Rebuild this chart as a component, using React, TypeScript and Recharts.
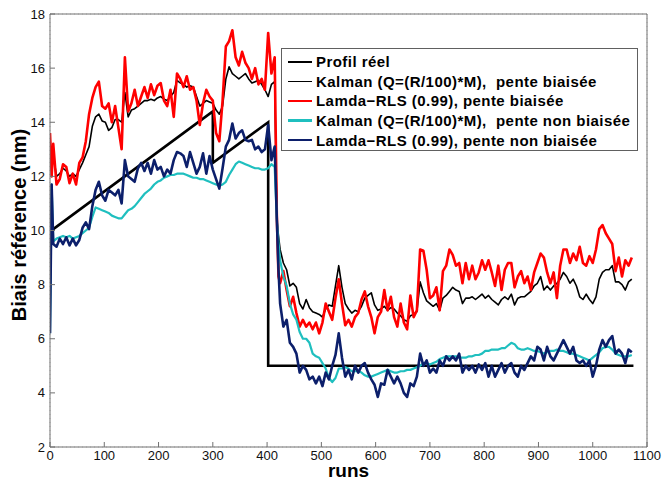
import React from 'react'
import { LineChart, Line, XAxis, YAxis, CartesianGrid, Legend } from 'recharts'

// x positions (runs) shared by the four estimator curves
const runs = [
  0, 3, 6, 12, 18, 24, 30, 36, 42, 48,
  54, 60, 66, 72, 78, 84, 90, 96, 102, 108,
  114, 120, 126, 132, 138, 144, 150, 156, 162, 168,
  174, 180, 186, 192, 198, 204, 210, 216, 222, 228,
  234, 240, 246, 252, 258, 264, 270, 276, 282, 288,
  294, 300, 306, 312, 318, 324, 330, 336, 342, 348,
  354, 360, 366, 372, 378, 384, 390, 396, 402, 408,
  414, 418, 421, 424, 430, 436, 442, 448, 454, 460,
  466, 472, 478, 484, 490, 496, 502, 508, 514, 520,
  526, 532, 538, 544, 550, 556, 562, 568, 574, 580,
  586, 592, 598, 604, 610, 616, 622, 628, 634, 640,
  646, 652, 658, 664, 670, 676, 682, 688, 694, 700,
  706, 712, 718, 724, 730, 736, 742, 748, 754, 760,
  766, 772, 778, 784, 790, 796, 802, 808, 814, 820,
  826, 832, 838, 844, 850, 856, 862, 868, 874, 880,
  886, 892, 898, 904, 910, 916, 922, 928, 934, 940,
  946, 952, 958, 964, 970, 976, 982, 988, 994, 1000,
  1006, 1012, 1018, 1024, 1030, 1036, 1042, 1048, 1054, 1060,
  1066, 1072,
]

const kalmanBiaisee = [
  13.5, 12.3, 12.8, 12.0, 12.1, 12.3, 12.2, 12.0, 12.1, 12.0,
  12.25, 12.5, 12.8, 13.1, 13.85, 14.2, 14.3, 14.05, 14.0, 13.7,
  13.8, 14.1, 14.1, 14.0, 15.1, 14.2, 14.45, 14.5, 14.6, 14.7,
  14.8, 14.8, 14.85, 14.8, 14.9, 14.95, 14.85, 14.8, 14.95, 15.1,
  15.55, 15.45, 15.4, 15.3, 15.35, 15.3, 14.95, 14.6, 14.7, 14.8,
  14.75, 14.7, 14.45, 14.3, 14.6, 15.6, 16.05, 15.8, 15.7, 15.6,
  15.7, 15.8, 15.6, 15.45, 15.5, 15.55, 15.4, 15.2, 14.95, 15.4,
  15.5, 10.4, 9.8, 9.3, 8.8, 8.55, 7.95, 8.05, 7.9, 7.3,
  7.1, 7.45, 7.15, 7.0, 6.95, 6.9, 6.8, 7.1, 7.25, 7.2,
  7.95, 8.7, 7.9, 7.3, 7.1, 6.95, 7.05, 7.0, 7.2, 7.5,
  7.6, 7.7, 7.25, 7.05, 7.1, 7.2, 7.05, 7.15, 7.1, 6.95,
  6.85, 6.7, 6.65, 6.85, 6.9, 7.0, 8.1, 7.7, 7.4, 7.3,
  7.2, 7.3, 7.05, 7.5, 7.6, 7.75, 7.9, 7.8, 7.75, 7.3,
  7.5, 7.5, 7.55, 7.45, 7.55, 7.65, 7.5, 7.6, 7.45, 7.35,
  7.25, 7.45, 7.55, 7.45, 7.65, 7.25, 7.5, 7.55, 7.55, 7.65,
  7.75, 7.95, 8.05, 8.3, 7.8, 7.95, 7.8, 7.95, 8.05, 8.2,
  8.45, 8.3, 8.05, 8.2, 7.95, 7.55, 7.45, 7.65, 7.45, 7.3,
  7.55, 8.2, 8.45, 8.55, 8.55, 8.7, 8.1, 8.1, 8.0, 7.8,
  8.1, 8.2,
]

const rlsBiaisee = [
  13.6, 12.0, 13.2, 11.7, 11.9, 12.45, 12.35, 11.75, 12.1, 11.7,
  12.5, 12.7, 13.3, 14.3, 14.9, 15.3, 15.5, 14.6, 14.5, 14.7,
  14.0, 14.6, 13.8, 13.0, 16.4, 14.4, 14.7, 15.2, 14.6, 14.95,
  15.3, 14.9, 15.4, 15.0, 15.35, 15.45, 14.8, 14.6, 15.2, 14.2,
  15.8, 15.6, 15.3, 15.7, 15.2, 15.3, 14.8, 13.9, 14.7, 15.2,
  14.95, 14.8, 13.6, 13.3, 14.8, 16.8, 17.0, 17.4, 16.4, 16.1,
  16.6, 16.2, 16.0, 15.6, 16.0, 15.4, 15.6, 15.2, 17.3, 15.8,
  16.4, 10.5, 8.3, 8.05, 8.5, 7.8, 7.2, 7.55, 6.95, 6.45,
  6.7, 6.45, 6.6, 6.35, 6.6, 6.2, 6.6, 7.3, 7.0, 6.7,
  7.5, 8.2, 7.3, 6.5, 6.7, 6.45, 6.8, 6.95, 7.45, 7.75,
  7.2, 6.8, 6.2, 6.8, 7.0, 7.8, 7.05, 7.55, 6.8, 6.45,
  7.3, 6.6, 6.35, 7.6, 6.8, 7.05, 9.3, 9.25, 8.55, 7.5,
  7.6, 7.9, 7.05, 8.5, 8.7, 9.3, 9.1, 8.7, 8.8, 8.05,
  8.8, 8.2, 8.7, 8.2, 8.45, 8.9, 8.55, 8.9, 8.45, 7.95,
  8.7, 7.8, 8.55, 8.8, 8.8, 7.9, 8.3, 8.5, 8.05, 8.3,
  7.8, 8.45, 8.8, 9.15, 9.0, 8.45, 8.05, 8.45, 7.5, 8.7,
  9.3, 9.3, 8.8, 9.15, 8.9, 9.4, 8.8, 8.7, 9.05, 8.8,
  9.3, 10.05, 10.2, 9.9, 9.7, 9.5, 8.5, 9.0, 8.3, 8.9,
  8.7, 9.0,
]

const kalmanNonBiaisee = [
  6.2, 11.7, 9.6, 9.7, 9.75, 9.8, 9.75, 9.8, 9.7, 9.75,
  9.8, 9.9, 10.0, 10.1, 10.5, 10.85, 10.8, 10.75, 10.7, 10.65,
  10.55, 10.5, 10.45, 10.45, 10.6, 10.75, 10.8, 10.9, 11.05, 11.2,
  11.35, 11.45, 11.55, 11.7, 11.8, 11.85, 11.95, 12.0, 12.05, 12.05,
  12.1, 12.1, 12.1, 12.05, 12.0, 11.95, 11.95, 11.9, 11.9, 11.85,
  11.8, 11.75, 11.7, 11.65, 11.7, 11.8, 12.05, 12.25, 12.45, 12.55,
  12.5, 12.45, 12.4, 12.35, 12.3, 12.3, 12.25, 12.25, 12.3, 12.45,
  12.35, 10.4, 9.55, 8.9, 8.3, 7.95, 7.3, 6.9, 6.7, 6.25,
  6.0, 6.0, 5.85, 5.45, 5.35, 5.3, 5.1, 4.9, 4.55, 4.4,
  4.55, 4.9, 4.9, 4.95, 4.9, 4.8, 4.8, 4.8, 4.75, 4.65,
  4.6, 4.6, 4.65, 4.7, 4.75, 4.8, 4.85, 4.8, 4.75, 4.75,
  4.8, 4.8, 4.85, 4.85, 4.9, 4.95, 5.0, 5.1, 5.1, 5.05,
  5.1, 5.15, 5.25, 5.3, 5.35, 5.35, 5.35, 5.35, 5.3, 5.3,
  5.3, 5.35, 5.35, 5.4, 5.4, 5.45, 5.55, 5.55, 5.6, 5.6,
  5.6, 5.65, 5.65, 5.75, 5.85, 5.8, 5.65, 5.6, 5.6, 5.65,
  5.6, 5.55, 5.55, 5.5, 5.45, 5.5, 5.55, 5.55, 5.6, 5.55,
  5.55, 5.5, 5.45, 5.45, 5.4, 5.35, 5.3, 5.25, 5.2, 5.3,
  5.4, 5.5, 5.65, 5.7, 5.7, 5.6, 5.45, 5.4, 5.35, 5.35,
  5.35, 5.4,
]

const rlsNonBiaisee = [
  6.2, 11.7, 9.5, 9.4, 9.7, 9.5, 9.75, 9.45, 9.7, 9.45,
  9.65, 10.1, 10.3, 10.05, 10.9, 11.5, 11.8, 11.3, 11.1, 11.5,
  11.4, 11.3, 11.5, 11.0, 12.6, 12.0, 11.9, 11.8, 12.3, 12.5,
  12.2, 12.5, 12.1, 12.6, 12.25, 12.35, 12.0, 12.25, 12.1, 12.6,
  12.9, 12.85, 12.75, 12.35, 12.9, 12.5, 12.1, 12.35, 12.85, 12.1,
  12.75, 12.25, 11.9, 11.55, 12.3, 13.1, 13.35, 13.95, 13.4, 13.6,
  13.7, 13.35, 13.3, 13.35, 13.0, 13.1, 12.9, 13.0, 13.9, 12.6,
  13.1, 10.4, 8.55, 7.3, 6.45, 6.7, 5.85, 5.7, 5.45, 4.75,
  5.0, 4.85, 4.5, 4.6, 4.35, 4.6, 4.25, 4.75, 4.5, 5.0,
  5.4, 6.2, 5.3, 4.6, 4.85, 4.5, 5.0, 4.75, 5.0, 5.1,
  4.75, 4.5, 4.3, 3.85, 4.35, 4.3, 4.85, 4.6, 4.35, 4.6,
  4.35, 4.0, 3.85, 4.35, 4.25, 4.6, 5.45, 5.0, 5.2, 4.75,
  4.9, 4.75, 5.2, 5.0, 5.35, 5.2, 5.35, 5.2, 5.45, 4.75,
  5.0, 4.85, 5.0, 4.75, 5.05, 4.85, 5.1, 4.6, 5.0, 4.6,
  4.85, 5.1, 4.75, 5.0, 5.1, 4.75, 4.6, 5.0, 4.85, 5.1,
  5.35, 5.2, 5.7, 5.6, 5.2, 5.7, 5.35, 5.2, 5.45, 5.7,
  5.95, 5.7, 5.45, 5.7, 5.2, 5.1, 5.2, 5.0, 5.2, 4.6,
  5.0, 5.6, 5.95, 5.7, 5.95, 6.1, 5.45, 5.6, 5.45, 5.1,
  5.6, 5.5,
]

// true profile: ramp, reset, ramp, then step down to 5
const profilRuns = [6, 300, 300, 402, 402, 1075]
const profilValues = [10.05, 14.4, 12.5, 14.0, 5.0, 5.0]

const xTicks = [0, 100, 200, 300, 400, 500, 600, 700, 800, 900, 1000, 1100]
const yTicks = [2, 4, 6, 8, 10, 12, 14, 16, 18]

const series = [
  { key: 'profil', name: 'Profil réel', color: '#000000', width: 2.6 },
  { key: 'kalmanB', name: 'Kalman (Q=(R/100)*M),  pente biaisée', color: '#000000', width: 1.6 },
  { key: 'rlsB', name: 'Lamda\u2212RLS (0.99), pente biaisée', color: '#ff0000', width: 2.6 },
  { key: 'kalmanNB', name: 'Kalman (Q=(R/100)*M),  pente non biaisée', color: '#1fbfbf', width: 2.2 },
  { key: 'rlsNB', name: 'Lamda\u2212RLS (0.99), pente non biaisée', color: '#0c1f6b', width: 2.6 },
]

const data = runs.map((run, i) => ({
  run,
  kalmanB: kalmanBiaisee[i],
  rlsB: rlsBiaisee[i],
  kalmanNB: kalmanNonBiaisee[i],
  rlsNB: rlsNonBiaisee[i],
}))

const profilData = profilRuns.map((run, i) => ({ run, profil: profilValues[i] }))

const FONT = '"Liberation Sans", Arial, Helvetica, sans-serif'
const AXIS_COLOR = '#707070'

const LegendBox = () => (
  <div
    style={{
      boxSizing: 'border-box',
      width: 357,
      height: 103,
      border: '1px solid #606060',
      background: '#ffffff',
      padding: '3px 0 0 6px',
      fontFamily: FONT,
      fontWeight: 'bold',
      fontSize: 15,
      letterSpacing: 0.45,
      color: '#000',
    }}
  >
    {series.map(s => (
      <div key={s.key} style={{ display: 'flex', alignItems: 'center', height: 19.6, whiteSpace: 'pre' }}>
        <span style={{ display: 'inline-block', width: 24, height: s.width, background: s.color, marginRight: 4 }} />
        <span>{s.name}</span>
      </div>
    ))}
  </div>
)

const App: React.FC = () => {
  return (
    <div style={{ position: 'absolute', left: 0, top: 0, width: 662, height: 482, background: '#fff' }}>
      <LineChart width={662} height={482} margin={{ top: 13, right: 14, bottom: 0, left: 0 }}>
        <CartesianGrid stroke="#c4c4c4" strokeDasharray="1 3" />
        <XAxis
          xAxisId="main"
          dataKey="run"
          type="number"
          domain={[0, 1100]}
          ticks={xTicks}
          allowDataOverflow
          height={35}
          stroke={AXIS_COLOR}
          tickSize={-5}
          tickMargin={9}
          tick={{ fill: '#111', fontSize: 13, fontFamily: FONT }}
          label={({ viewBox }: any) => (
            <text
              x={viewBox.x + viewBox.width / 2}
              y={viewBox.y + 30}
              textAnchor="middle"
              fontFamily={FONT}
              fontWeight="bold"
              fontSize={19}
              fill="#000"
            >
              runs
            </text>
          )}
        />
        <XAxis
          xAxisId="top"
          orientation="top"
          dataKey="run"
          type="number"
          domain={[0, 1100]}
          ticks={xTicks}
          height={1}
          stroke={AXIS_COLOR}
          tickSize={-5}
          tickFormatter={() => ''}
        />
        <YAxis
          yAxisId="main"
          type="number"
          domain={[2, 18]}
          ticks={yTicks}
          allowDataOverflow
          width={50}
          stroke={AXIS_COLOR}
          tickSize={-5}
          tickMargin={10}
          tick={{ fill: '#111', fontSize: 13, fontFamily: FONT }}
          label={({ viewBox }: any) => {
            const cx = viewBox.x + 26
            const cy = 225
            return (
              <text
                x={cx}
                y={cy}
                transform={`rotate(-90, ${cx}, ${cy})`}
                textAnchor="middle"
                fontFamily={FONT}
                fontWeight="bold"
                fontSize={20}
                fill="#000"
              >
                Biais référence (nm)
              </text>
            )
          }}
        />
        <YAxis
          yAxisId="right"
          orientation="right"
          type="number"
          domain={[2, 18]}
          ticks={yTicks}
          width={1}
          stroke={AXIS_COLOR}
          tickSize={-5}
          tickFormatter={() => ''}
        />
        <Line
          xAxisId="main"
          yAxisId="main"
          data={profilData}
          dataKey="profil"
          name={series[0].name}
          stroke={series[0].color}
          strokeWidth={series[0].width}
          dot={false}
          type="linear"
          isAnimationActive={false}
        />
        {series.slice(1).map(s => (
          <Line
            key={s.key}
            xAxisId="main"
            yAxisId="main"
            data={data}
            dataKey={s.key}
            name={s.name}
            stroke={s.color}
            strokeWidth={s.width}
            strokeLinejoin="round"
            dot={false}
            type="linear"
            isAnimationActive={false}
          />
        ))}
        <Legend
          layout="vertical"
          align="center"
          verticalAlign="middle"
          content={() => <LegendBox />}
          wrapperStyle={{ left: 281, top: 48, width: 357, height: 103 }}
        />
      </LineChart>
    </div>
  )
}

export default App
